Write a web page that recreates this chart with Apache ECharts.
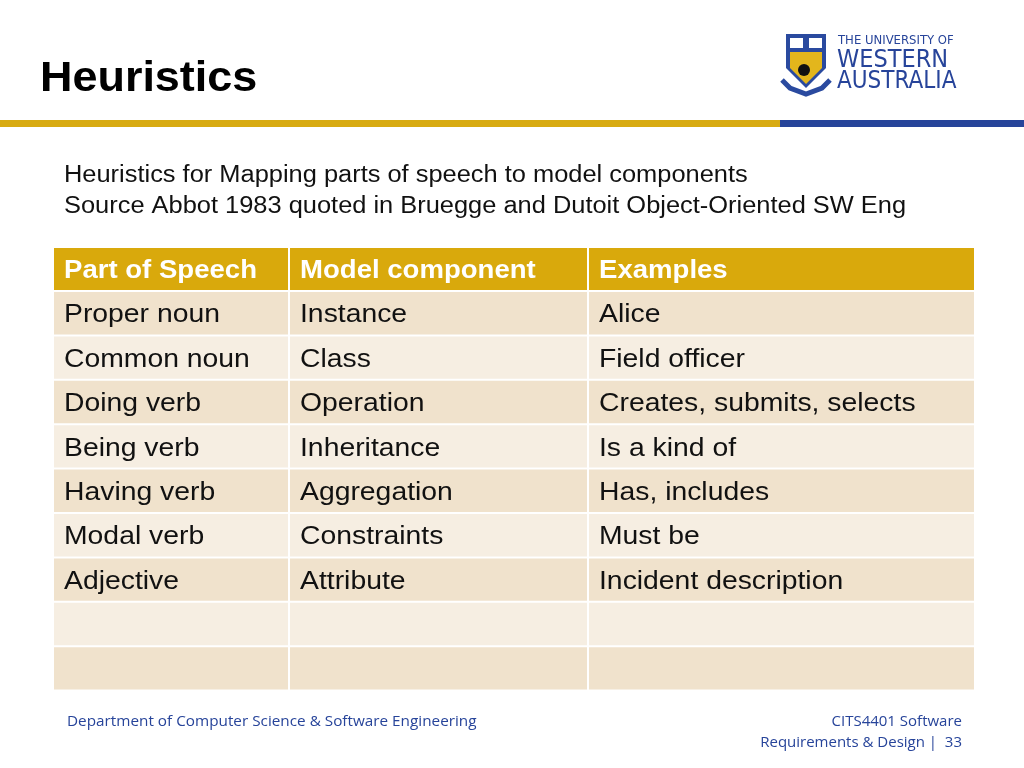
<!DOCTYPE html>
<html><head><meta charset="utf-8">
<script src="https://cdn.jsdelivr.net/npm/echarts@6/dist/echarts.min.js"></script>
<style>html,body{margin:0;padding:0;background:#fff}#main{width:1024px;height:768px}</style>
</head><body><div id="main"></div>
<script>
var headers = ['Part of Speech', 'Model component', 'Examples'];
var partOfSpeech = ['Proper noun', 'Common noun', 'Doing verb', 'Being verb', 'Having verb', 'Modal verb', 'Adjective', '', ''];
var modelComponent = ['Instance', 'Class', 'Operation', 'Inheritance', 'Aggregation', 'Constraints', 'Attribute', '', ''];
var examples = ['Alice', 'Field officer', 'Creates, submits, selects', 'Is a kind of', 'Has, includes', 'Must be', 'Incident description', '', ''];
var columns = [partOfSpeech, modelComponent, examples];

var dom = document.getElementById('main');
var myChart = echarts.init(dom);

var colX = [54, 290, 589, 976];
var headTop = 248, headH = 42, rowTop = 292, rowH = 44.4;
var sans = 'Liberation Sans';
var g = [];

// text helper; sx widens the glyphs a little to match the slide's Helvetica
function txt(x, y, s, size, opts, sx) {
    var st = {text: s, fontFamily: sans, fontSize: size, fill: '#111', textVerticalAlign: 'middle'};
    for (var k in opts) st[k] = opts[k];
    return {type: 'text', x: x, y: y, scaleX: sx || 1, style: st};
}

// title + rules
g.push(txt(40, 79, 'Heuristics', 42, {fontWeight: 'bold', fill: '#000'}, 1.07));
g.push({type: 'rect', shape: {x: 0, y: 120, width: 780, height: 7}, style: {fill: '#d8ab12'}});
g.push({type: 'rect', shape: {x: 780, y: 120, width: 244, height: 7}, style: {fill: '#27449a'}});
g.push(txt(64, 176, 'Heuristics for Mapping parts of speech to model components', 23, {}, 1.105));
g.push(txt(64, 207, 'Source Abbot 1983 quoted in Bruegge and Dutoit Object-Oriented SW Eng', 23, {}, 1.105));

// logo
g.push({type: 'polygon', shape: {points: [[786, 34], [826, 34], [826, 68], [806, 88], [786, 68]]}, style: {fill: '#2a4a9f'}});
g.push({type: 'polygon', shape: {points: [[790, 52], [822, 52], [822, 68], [806, 84], [790, 68]]}, style: {fill: '#e3b61c'}});
g.push({type: 'rect', shape: {x: 790, y: 38, width: 13, height: 10}, style: {fill: '#fff'}});
g.push({type: 'rect', shape: {x: 809, y: 38, width: 13, height: 10}, style: {fill: '#fff'}});
g.push({type: 'circle', shape: {cx: 804, cy: 70, r: 6}, style: {fill: '#111'}});
g.push({type: 'polyline', shape: {points: [[782, 80], [790, 88], [806, 94], [822, 88], [830, 80]]}, style: {stroke: '#2a4a9f', lineWidth: 5, fill: null}});
g.push(txt(838, 41, 'THE UNIVERSITY OF', 12, {fontFamily: 'DejaVu Sans Condensed', fill: '#27449a'}, 1.08));
g.push(txt(837, 60, 'WESTERN', 25, {fontFamily: 'DejaVu Sans Condensed', fill: '#27449a'}));
g.push(txt(837, 82, 'AUSTRALIA', 24, {fontFamily: 'DejaVu Sans Condensed', fill: '#27449a'}));

// header row
for (var c = 0; c < 3; c++) {
    g.push({type: 'rect', shape: {x: colX[c], y: headTop, width: colX[c + 1] - colX[c] - 2, height: headH}, style: {fill: '#d9a90c'}});
    g.push(txt(colX[c] + 10, headTop + headH / 2 + 2, headers[c], 26, {fontWeight: 'bold', fill: '#fff'}, 1.06));
}
// body rows
for (var r = 0; r < partOfSpeech.length; r++) {
    var y = rowTop + r * rowH;
    for (var c2 = 0; c2 < 3; c2++) {
        g.push({type: 'rect', shape: {x: colX[c2], y: y, width: colX[c2 + 1] - colX[c2] - 2, height: rowH - 2}, style: {fill: r % 2 === 0 ? '#f0e2cc' : '#f6eee2'}});
        g.push(txt(colX[c2] + 10, y + rowH / 2 + 1, columns[c2][r], 26, {}, 1.09));
    }
}

// footer
g.push(txt(67, 722, 'Department of Computer Science & Software Engineering', 15, {fontFamily: 'Open Sans', fill: '#27449a'}, 1.02));
g.push(txt(962, 722, 'CITS4401 Software', 15, {fontFamily: 'Open Sans', fill: '#27449a', textAlign: 'right'}));
g.push(txt(962, 743, 'Requirements & Design |  33', 15, {fontFamily: 'Open Sans', fill: '#27449a', textAlign: 'right'}));

option = {animation: false, graphic: g};
if (option && typeof option === 'object') {
    myChart.setOption(option, true);
}
</script></body></html>
